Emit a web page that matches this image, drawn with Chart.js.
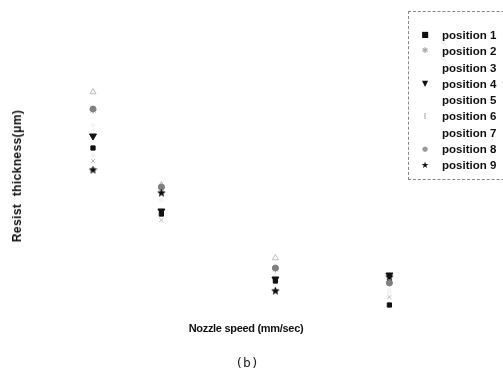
<!DOCTYPE html>
<html>
<head>
<meta charset="utf-8">
<script src="https://cdn.jsdelivr.net/npm/chart.js@4.4.0/dist/chart.umd.min.js"></script>
<style>
  body { margin: 0; background: #fff; overflow: hidden; font-family: 'Liberation Sans', Arial, sans-serif; }
  #wrap { position: relative; width: 503px; height: 376px; }
  #chart { position: absolute; left: 0; top: 0; }
  .ytitle { position: absolute; left: 17px; top: 176px; transform: translate(-50%, -50%) rotate(-90deg);
            font-weight: bold; font-size: 12px; letter-spacing: 0.4px; white-space: nowrap; color: #111; }
  .xtitle { position: absolute; left: 246px; top: 328px; transform: translate(-50%, -50%);
            font-weight: bold; font-size: 11px; letter-spacing: -0.3px; white-space: nowrap; color: #111; }
  .caption { position: absolute; left: 247px; top: 362px; transform: translate(-50%, -50%);
             font-family: 'DejaVu Sans Mono', monospace; font-size: 13px; color: #222; }
  #legend { position: absolute; left: 408px; top: 11px; width: 120px; height: 167px;
            border: 1px dashed #888; border-right: none; }
  .item { position: absolute; left: 0; height: 14px; line-height: 14px; font-weight: bold; font-size: 11.5px; color: #111; white-space: nowrap; }
  .item .mk { position: absolute; left: 9px; width: 14px; text-align: center; font-family: 'DejaVu Sans', sans-serif; }
  .item .tx { position: absolute; left: 33px; }
</style>
</head>
<body>
<div id="wrap">
  <canvas id="chart" width="503" height="376"></canvas>
  <div class="ytitle">Resist&nbsp; thickness(μm)</div>
  <div class="xtitle">Nozzle speed (mm/sec)</div>
  <div class="caption">(b)</div>
  <div id="legend"></div>
</div>
<script>
// Nozzle speed (arbitrary units read from the spacing of the columns)
const speeds = [20, 32, 52, 72];

const labels = ['position 1', 'position 2', 'position 3', 'position 4', 'position 5',
                'position 6', 'position 7', 'position 8', 'position 9'];

// Resist thickness per position, one value per speed
const pos1 = [1.72, 1.06, 0.39, 0.15];
const pos2 = [2.10, 1.32, 0.51, 0.38];
const pos3 = [2.28, 1.35, 0.62, 0.44];
const pos4 = [1.84, 1.09, 0.41, 0.45];
const pos5 = [1.95, 1.20, 0.45, 0.30];
const pos6 = [1.59, 1.00, 0.40, 0.23];
const pos7 = [1.65, 1.10, 0.35, 0.28];
const pos8 = [2.11, 1.33, 0.52, 0.37];
const pos9 = [1.50, 1.27, 0.29, 0.43];
const series = [pos1, pos2, pos3, pos4, pos5, pos6, pos7, pos8, pos9];

// filled five-point star for position 9
function starImg(size, color) {
  const c = document.createElement('canvas');
  c.width = size; c.height = size;
  const g = c.getContext('2d');
  const r = size / 2, ri = r * 0.45;
  g.beginPath();
  for (let i = 0; i < 10; i++) {
    const a = -Math.PI / 2 + i * Math.PI / 5;
    const rr = i % 2 ? ri : r;
    g.lineTo(r + rr * Math.cos(a), r + rr * Math.sin(a));
  }
  g.closePath();
  g.fillStyle = color;
  g.fill();
  return c;
}

// marker styles for the plot and the legend glyphs
const styles = [
  { pointStyle: 'rect', radius: 3, bg: '#111', bd: '#111', rot: 0, glyph: '■', gc: '#111', gs: 8 },
  { pointStyle: 'star', radius: 3.5, bg: '#999', bd: '#999', rot: 0, glyph: '✱', gc: '#aaa', gs: 8 },
  { pointStyle: 'triangle', radius: 3.5, bg: 'rgba(0,0,0,0)', bd: '#bbb', rot: 0, glyph: '', gc: '#fff', gs: 8 },
  { pointStyle: 'triangle', radius: 4, bg: '#111', bd: '#111', rot: 180, glyph: '▼', gc: '#111', gs: 8 },
  { pointStyle: 'circle', radius: 2, bg: '#f4f4f4', bd: '#f4f4f4', rot: 0, glyph: '', gc: '#fff', gs: 8 },
  { pointStyle: 'crossRot', radius: 3, bg: '#bbb', bd: '#bbb', rot: 0, glyph: '⁝', gc: '#bbb', gs: 9 },
  { pointStyle: 'circle', radius: 2, bg: '#f4f4f4', bd: '#f4f4f4', rot: 0, glyph: '', gc: '#fff', gs: 8 },
  { pointStyle: 'circle', radius: 3, bg: '#808080', bd: '#808080', rot: 0, glyph: '●', gc: '#999', gs: 7 },
  { pointStyle: starImg(9, '#111'), radius: 4.5, bg: '#111', bd: '#111', rot: 0, glyph: '★', gc: '#111', gs: 9 },
];

const datasets = series.map((arr, k) => ({
  label: labels[k],
  data: speeds.map((x, i) => ({ x: x, y: arr[i] })),
  pointStyle: styles[k].pointStyle,
  pointRadius: styles[k].radius,
  pointBackgroundColor: styles[k].bg,
  pointBorderColor: styles[k].bd,
  pointBorderWidth: 1,
  pointRotation: styles[k].rot,
  showLine: false,
}));

// draw order: light ones first so the dark markers sit on top
const order = [4, 6, 2, 5, 1, 7, 3, 0, 8];
datasets.forEach((d, k) => { d.order = 9 - order.indexOf(k); });

new Chart(document.getElementById('chart'), {
  type: 'scatter',
  data: { datasets },
  options: {
    responsive: false,
    animation: false,
    layout: { padding: { left: 36, right: 68, top: 20, bottom: 56 } },
    plugins: { legend: { display: false }, tooltip: { enabled: false } },
    scales: {
      x: { type: 'linear', display: false, min: 10, max: 80 },
      y: { display: false, min: 0, max: 3 }
    }
  }
});

// legend
const legend = document.getElementById('legend');
legend.innerHTML = labels.map((t, k) => `
  <div class="item" style="top:${16 + k * 16.25}px">
    <span class="mk" style="color:${styles[k].gc};font-size:${styles[k].gs}px">${styles[k].glyph}</span>
    <span class="tx">${t}</span>
  </div>
`).join('');
</script>
</body>
</html>
